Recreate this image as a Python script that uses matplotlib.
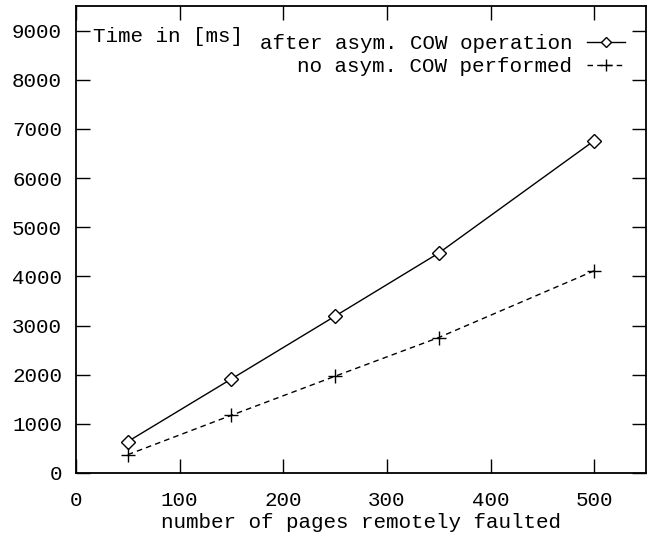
import matplotlib
matplotlib.use("Agg")
import matplotlib.pyplot as plt

pages = [50, 150, 250, 350, 500]
after_cow = [640, 1914, 3191, 4474, 6760]
no_cow = [373, 1175, 1969, 2756, 4114]
xticks = [0, 100, 200, 300, 400, 500]
yticks = [0, 1000, 2000, 3000, 4000, 5000, 6000, 7000, 8000, 9000]

FS = 15
plt.rcParams['font.family'] = ['Liberation Mono', 'DejaVu Sans Mono']
plt.rcParams['font.size'] = FS

fig = plt.figure(figsize=(6.51, 5.38), dpi=100)
ax = fig.add_axes([76/651, 65/538, 570/651, 467/538])

ax.plot(pages, after_cow, color='black', lw=1.0, marker='D', markersize=7,
        markerfacecolor='white', markeredgecolor='black', markeredgewidth=1.0,
        label='after asym. COW operation')
ax.plot(pages, no_cow, color='black', lw=1.0, linestyle=(0, (4, 3)), marker='+',
        markersize=10, markeredgewidth=1.0, label='no asym. COW performed')

ax.set_xlim(0, 550)
ax.set_ylim(0, 9500)
ax.set_xticks(xticks)
ax.set_yticks(yticks)
ax.tick_params(direction='in', length=10, width=1.0, top=True, right=True,
               labelsize=FS)
ax.tick_params(axis='x', pad=13)
ax.tick_params(axis='y', pad=10)
for s in ax.spines.values():
    s.set_linewidth(1.3)

ax.set_xlabel('number of pages remotely faulted', fontsize=FS, labelpad=2)
ax.text(93/651, 1 - 37/538, 'Time in [ms]', transform=fig.transFigure,
        ha='left', va='center', fontsize=FS)

leg = ax.legend(loc='upper right', bbox_to_anchor=(0.988, 0.971), frameon=False,
                markerfirst=False, handlelength=1.8, handletextpad=0.7,
                labelspacing=0.2, fontsize=FS, borderaxespad=0.3,
                markerscale=0.8)
for t in leg.get_texts():
    t.set_ha('right')
leg._legend_box.align = 'right'

fig.savefig('out.png', dpi=100)
